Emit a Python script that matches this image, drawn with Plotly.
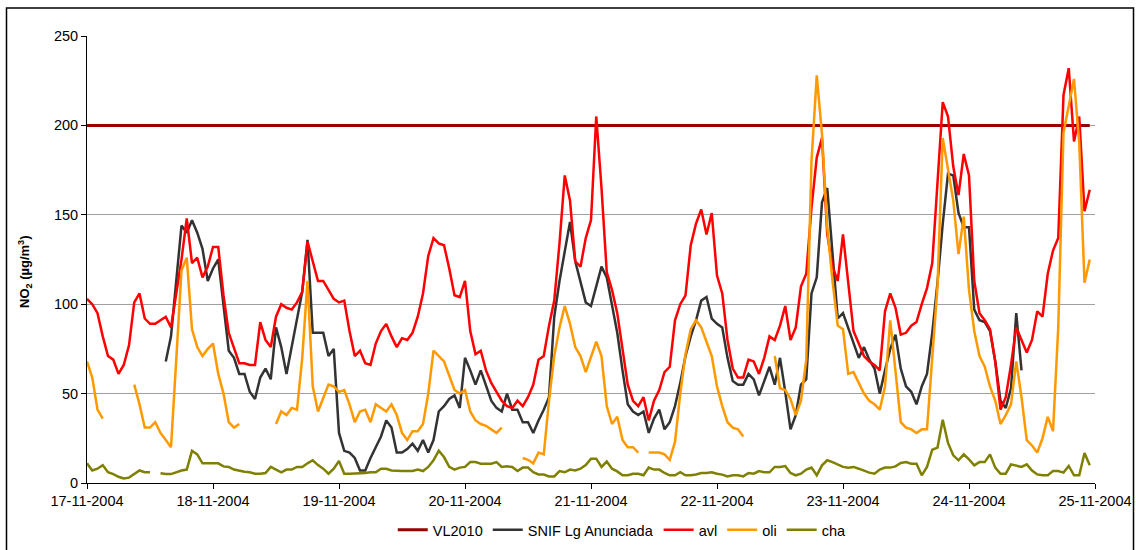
import pandas as pd
import plotly.graph_objects as go

# ---- data (hourly, 17-11-2004 00:00 .. 24-11-2004 23:00) ----
start = "2004-11-17 00:00"
n_hours = 192
limit_vl2010 = 200

N = None
avl = [
    103, 100, 95, 82, 71, 69, 61, 66, 77, 101,
    106, 92, 89, 89, 91, 93, 87, 105, 125, 148,
    123, 126, 115, 121, 132, 132, 105, 84, 76, 67,
    67, 66, 66, 90, 80, 76, 93, 100, 98, 97,
    101, 107, 135, 124, 113, 113, 108, 103, 101, 102,
    85, 71, 74, 67, 66, 78, 85, 89, 82, 76,
    81, 80, 84, 93, 106, 127, 137, 134, 133, 120,
    105, 104, 113, 85, 72, 74, 63, 56, 51, 46,
    43, 42, 46, 43, 48, 55, 69, 71, 88, 102,
    134, 172, 158, 124, 121, 137, 147, 205, 165, 118,
    108, 95, 75, 55, 46, 43, 48, 35, 46, 52,
    62, 65, 91, 100, 105, 133, 145, 153, 139, 151,
    116, 106, 80, 64, 59, 59, 69, 68, 61, 70,
    82, 80, 88, 99, 80, 87, 110, 117, 154, 182,
    193, 139, 121, 113, 139, 110, 85, 78, 71, 68,
    66, 63, 96, 106, 98, 83, 84, 88, 90, 100,
    109, 123, 165, 213, 205, 177, 161, 184, 172, 113,
    95, 91, 86, 68, 41, 48, 66, 87, 80, 73,
    80, 96, 93, 117, 130, 137, 217, 232, 191, 205,
    152, 164,
]

snif = [N] * 15 + [
    68, 82, 113, 144, 140,
    147, 140, 131, 113, 120, 125, 100, 74, 70, 61,
    61, 51, 47, 59, 64, 58, 87, 76, 61, 77,
    93, 107, 136, 84, 84, 84, 71, 75, 28, 18,
    17, 14, 7, 7, 14, 20, 26, 35, 31, 17,
    17, 19, 22, 18, 24, 17, 24, 40, 43, 47,
    49, 42, 70, 63, 55, 63, 54, 46, 42, 40,
    50, 41, 41, 34, 34, 28, 35, 41, 48, 93,
    113, 130, 146, 124, 113, 101, 99, 110, 121, 115,
    100, 84, 63, 44, 40, 38, 40, 28, 36, 41,
    30, 34, 43, 56, 71, 82, 91, 102, 104, 92,
    89, 87, 70, 57, 55, 55, 61, 58, 49, 57,
    65, 55, 70, 51, 30, 38, 55, 58, 106, 115,
    157, 165, 130, 92, 95, 87, 79, 70, 76, 69,
    64, 50, 63, 75, 83, 64, 54, 51, 44, 54,
    61, 84, 112, 145, 173, 172, 151, 143, 143, 97,
    91, 90, 85, 68, 46, 42, 53, 95, 63,
] + [N] * 13

oli = [
    68, 59, 41, 36, N, N, N, N, N, 55,
    44, 31, 31, 34, 28, 24, 20, 69, 119, 126,
    86, 76, 71, 75, 78, 61, 50, 34, 31, 33,
    N, N, N, N, N, N, 33, 40, 38, 42,
    41, 70, 113, 54, 40, 48, 55, 54, 51, 52,
    44, 34, 40, 41, 34, 44, 42, 40, 44, 38,
    28, 24, 29, 29, 33, 50, 74, 71, 68, 60,
    52, 50, 52, 40, 35, 33, 32, 30, 28, 31,
    N, N, N, 14, 13, 11, 17, 16, 46, 71,
    87, 99, 89, 76, 71, 62, 71, 79, 71, 43,
    33, 37, 24, 20, 20, 17, N, 17, 17, 17,
    16, 13, 23, 50, 72, 86, 91, 87, 79, 71,
    54, 43, 34, 31, 30, 26, N, N, N, N,
    N, 71, 53, 52, 47, 38, 46, 69, 180, 228,
    195, 143, 113, 88, 86, 61, 62, 56, 50, 46,
    44, 41, 54, 91, 63, 34, 31, 30, 28, 30,
    30, 69, 110, 193, 175, 158, 128, 149, 108, 85,
    71, 65, 54, 46, 33, 38, 44, 68, 48, 24,
    21, 17, 25, 37, 29, 87, 196, 210, 226, 190,
    112, 125,
]

cha = [
    11, 7, 8, 10, 6, 5, 3.5, 2.5, 3, 5,
    7, 6, 6, N, 5.5, 5, 5, 6, 7, 7.5,
    18, 16, 11, 11, 11, 11, 9.3, 9, 7.5, 6.7,
    6.3, 6, 5.2, 5.2, 5.6, 9, 7.5, 6, 7.5, 7.5,
    9, 9, 11, 12.7, 10, 8, 5.2, 8, 12.3, 5.2,
    5.2, 5.2, 5.2, 5.6, 6, 6, 8, 8, 7, 6.7,
    6.7, 6.7, 6.7, 7.5, 6.7, 9, 12.7, 18, 14.5, 9,
    7.5, 8.6, 9, 11.7, 11.7, 10.8, 10.8, 10.8, 11.7, 9,
    9.3, 9, 6.7, 8.6, 8.6, 6, 4.8, 4.7, 3.7, 3.7,
    6.7, 6, 7.5, 7, 8, 10, 13.6, 13.6, 9, 12,
    8, 6.5, 4.3, 4.3, 5.2, 5.2, 4.3, 8.6, 7.5, 7.5,
    5.6, 4.3, 4.3, 6, 4.3, 4.3, 4.8, 5.6, 5.6, 6,
    5.2, 4.7, 3.7, 4.3, 4.3, 3.7, 5.6, 5.2, 6.7, 6,
    6, 9, 9, 9.5, 5.6, 4.3, 5.2, 7.5, 8.6, 4.3,
    9.9, 12.7, 11.7, 10.4, 9, 8.6, 9, 8, 6.7, 5.8,
    5.2, 7.5, 8.6, 8.6, 9.3, 11.2, 11.7, 10.8, 10.8, 4.3,
    9, 18.6, 19.8, 35.4, 22.4, 15.5, 12.7, 16, 13.2, 9.9,
    11.7, 11.7, 16, 8.6, 5.2, 5.2, 10.4, 9.9, 9, 10.4,
    7, 4.8, 4.3, 4.3, 6.7, 6.7, 5.8, 9.5, 4.3, 4.3,
    16.8, 9.9,
]

x = pd.date_range(start, periods=n_hours, freq="h")
vl2010 = [limit_vl2010] * n_hours

FONT = "Liberation Sans, Arial, sans-serif"
FS = 14.5

fig = go.Figure()
series = [
    ("VL2010", vl2010, "#990000", 3),
    ("SNIF Lg Anunciada", snif, "#333333", 2.5),
    ("avl", avl, "#FF0000", 2.5),
    ("oli", oli, "#FF9900", 2.5),
    ("cha", cha, "#808000", 2.5),
]
for name, y, color, w in series:
    fig.add_trace(go.Scatter(
        x=x, y=y, name=name, mode="lines",
        line=dict(color=color, width=w),
        connectgaps=False,
    ))

fig.update_layout(
    width=1136, height=550,
    margin=dict(l=87, r=41, t=36, b=67, autoexpand=False),
    paper_bgcolor="white", plot_bgcolor="white",
    font=dict(family=FONT, size=FS, color="black"),
    showlegend=True,
    legend=dict(
        orientation="h", x=0.531, xanchor="center",
        y=-0.105, yanchor="middle",
        font=dict(family=FONT, size=FS, color="black"),
        itemwidth=30, tracegroupgap=0,
        bgcolor="rgba(0,0,0,0)",
    ),
    xaxis=dict(
        type="date",
        range=["2004-11-17 00:00", "2004-11-25 00:00"],
        dtick=86400000, tick0="2004-11-17",
        tickformat="%d-%m-%Y",
        showgrid=False, zeroline=False,
        showline=True, linecolor="black", linewidth=1,
        ticks="outside", ticklen=5, tickcolor="black",
        tickfont=dict(family=FONT, size=FS, color="black"),
        automargin=False,
    ),
    yaxis=dict(
        range=[0, 250], dtick=50,
        showgrid=True, gridcolor="#A0A0A0", gridwidth=1,
        zeroline=False,
        showline=True, linecolor="black", linewidth=1,
        ticks="outside", ticklen=5, tickcolor="black",
        tickfont=dict(family=FONT, size=FS, color="black"),
        automargin=False,
    ),
    annotations=[dict(
        text="<b>NO<sub>2</sub> (µg/m<sup>3</sup>)</b>",
        xref="paper", yref="paper",
        x=(25 - 87) / 1008, y=(483 - 272) / 447,
        xanchor="center", yanchor="middle",
        textangle=-90, showarrow=False,
        font=dict(family=FONT, size=13, color="black"),
    )],
    shapes=[dict(
        type="rect", xref="paper", yref="paper",
        x0=(6.5 - 87) / 1008, x1=(1133.5 - 87) / 1008,
        y0=(483 - 560) / 447, y1=(483 - 8) / 447,
        line=dict(color="black", width=1.5),
        fillcolor="rgba(0,0,0,0)", layer="below",
    )],
)

# remove the browser's default 8px page margin so the figure sits at (0, 0)
fig.write_html("out.html",
               config={"displayModeBar": False},
               post_script="document.body.style.margin='0';"
                           "document.body.style.overflow='hidden';")
